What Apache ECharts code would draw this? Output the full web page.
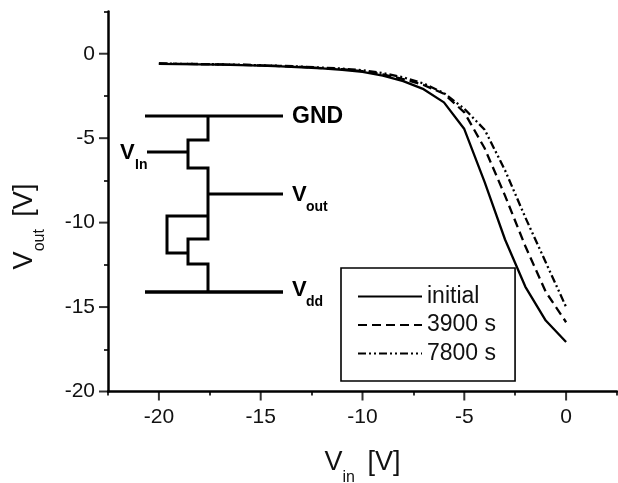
<!DOCTYPE html>
<html>
<head>
<meta charset="utf-8">
<style>html,body{margin:0;padding:0;background:#fff}#c{width:618px;height:483px}</style>
<script src="https://cdn.jsdelivr.net/npm/echarts@6/dist/echarts.min.js"></script>
</head>
<body>
<div id="c"></div>
<script>
const xMajor = [-20, -15, -10, -5, 0];
const xMinor = [-22.5, -17.5, -12.5, -7.5, -2.5, 2.5];
const yMajor = [-20, -15, -10, -5, 0];
const yMinor = [-17.5, -12.5, -7.5, -2.5, 2.5];

const vin = [-20, -19, -18, -17, -16, -15, -14, -13, -12, -11, -10, -9, -8, -7, -6, -5, -4, -3, -2, -1, 0];
const initial = [-0.6, -0.62, -0.63, -0.65, -0.68, -0.71, -0.75, -0.8, -0.87, -0.95, -1.07, -1.3, -1.62, -2.1, -2.88, -4.46, -7.6, -11.0, -13.8, -15.8, -17.07];
const s3900 = [-0.58, -0.6, -0.61, -0.63, -0.66, -0.69, -0.73, -0.78, -0.85, -0.92, -1.03, -1.22, -1.5, -1.85, -2.37, -3.47, -5.6, -8.4, -11.4, -14.1, -15.9];
const s7800 = [-0.58, -0.6, -0.61, -0.63, -0.65, -0.68, -0.72, -0.76, -0.82, -0.88, -0.98, -1.15, -1.4, -1.76, -2.33, -3.26, -4.5, -6.9, -9.7, -12.35, -15.0];

const seriesNames = ['initial', '3900 s', '7800 s'];
const seriesValues = [initial, s3900, s7800];
const seriesDash = ['solid', [9, 5], [8, 3, 2, 3, 2, 3]];

const circuitThin = [
  [[145,116],[283,116]],
  [[208,116],[208,140],[188,140],[188,168],[208,168],[208,239],[188,239],[188,264],[208,264],[208,292]],
  [[147,152],[188,152]],
  [[208,194],[283,194]],
  [[208,216],[167,216],[167,253],[188,253]]
];
const circuitLabels = [
  {x:292, y:117, size:23, text:'GND'},
  {x:120, y:153, size:22, text:'V'},
  {x:135, y:165, size:14, text:'In'},
  {x:292, y:195, size:22, text:'V'},
  {x:306, y:207, size:14, text:'out'},
  {x:292, y:290, size:22, text:'V'},
  {x:306, y:302, size:14, text:'dd'}
];

const font = '"Liberation Sans", Arial, sans-serif';
const fmt = v => String(v);
const blackLine = {color:'#000', width:2.5};
const xLow = -22.5, xHigh = 2.5, yLow = -20, yHigh = 2.5;

const chart = echarts.init(document.getElementById('c'), null, {renderer: 'canvas'});

const graphic = [];
circuitThin.forEach(pts => graphic.push({
  type: 'polyline', shape: {points: pts},
  style: {stroke: '#000', lineWidth: 3, fill: null, lineJoin: 'miter'}, z: 5
}));
graphic.push({type:'line', shape:{x1:145,y1:292,x2:283,y2:292}, style:{stroke:'#000', lineWidth:3.6}, z:5});
circuitLabels.forEach(l => graphic.push({
  type: 'text', x: l.x, y: l.y, z: 5,
  style: {text: l.text, font: 'bold ' + l.size + 'px ' + font, fill: '#000', verticalAlign: 'middle'}
}));

const nameStyle = {fontSize:16, fontFamily:font, color:'#111', padding:[30,5,0,0]};

const curveSeries = seriesNames.map((n, i) => ({
  name: n, type: 'line', showSymbol: false, symbol: 'none', smooth: false,
  data: vin.map((x, j) => [x, seriesValues[i][j]]),
  lineStyle: {color: '#000', width: 2.3, type: seriesDash[i]},
  itemStyle: {color: '#000'},
  z: 3
}));
const majorTickSeries = [
  {type:'scatter', name:'xticks', clip:false, silent:true, symbol:'rect', symbolSize:[2,9], symbolOffset:[0,4.5],
   data:xMajor.map(v=>[v,yLow]), itemStyle:{color:'#000'}, z:4},
  {type:'scatter', name:'yticks', clip:false, silent:true, symbol:'rect', symbolSize:[9,2], symbolOffset:[-4.5,0],
   data:yMajor.map(v=>[xLow,v]), itemStyle:{color:'#000'}, z:4}
];

chart.setOption({
  animation: false,
  backgroundColor: '#fff',
  textStyle: {fontFamily: font},
  grid: {left: 108, right: 1, top: 11.5, bottom: 91.5, outerBoundsMode: 'none'},
  legend: {
    left: 341, top: 268, orient: 'vertical',
    data: seriesNames,
    borderColor: '#000', borderWidth: 1.6,
    padding: [17, 19, 16, 16],
    itemWidth: 64, itemHeight: 20, itemGap: 5.5,
    itemStyle: {opacity: 0},
    textStyle: {color: '#111', fontSize: 23, fontFamily: font}
  },
  xAxis: [
    {
      type: 'value', min: xLow, max: xHigh, interval: 2.5, position: 'bottom',
      axisLine: {show:true, onZero:false, lineStyle: blackLine}, splitLine: {show:false},
      axisTick: {show:false},
      axisLabel: {show: true, customValues: xMajor, formatter: fmt, color:'#111', fontSize: 21, margin: 15, fontFamily: font},
      name: 'V{s|in} [V]', nameLocation: 'middle', nameGap: 48,
      nameTextStyle: {color:'#111', fontSize: 27, fontFamily: font, rich: {s:nameStyle}}
    },
    {
      type: 'value', min: xLow, max: xHigh, interval: 2.5, position: 'bottom',
      axisLine: {show:false, onZero:false}, splitLine:{show:false}, axisLabel:{show:false},
      axisTick: {show:true, customValues: xMinor, length: 4, lineStyle:{color:'#000', width:1.6}}
    }
  ],
  yAxis: [
    {
      type: 'value', min: yLow, max: yHigh, interval: 2.5, position: 'left',
      axisLine: {show:true, onZero:false, lineStyle: blackLine}, splitLine:{show:false},
      axisTick: {show:false},
      axisLabel: {show:true, customValues: yMajor, formatter: fmt, color:'#111', fontSize: 21, margin: 13, fontFamily: font},
      name: 'V{s|out} [V]', nameLocation: 'middle', nameGap: 60,
      nameTextStyle: {color:'#111', fontSize: 27, fontFamily: font, padding:[0,50,0,0], rich: {s:nameStyle}}
    },
    {
      type: 'value', min: yLow, max: yHigh, interval: 2.5, position: 'left',
      axisLine: {show:false, onZero:false}, splitLine:{show:false}, axisLabel:{show:false},
      axisTick: {show:true, customValues: yMinor, length: 4, lineStyle:{color:'#000', width:1.6}}
    }
  ],
  series: curveSeries.concat(majorTickSeries),
  graphic: graphic
});
</script>
</body>
</html>
